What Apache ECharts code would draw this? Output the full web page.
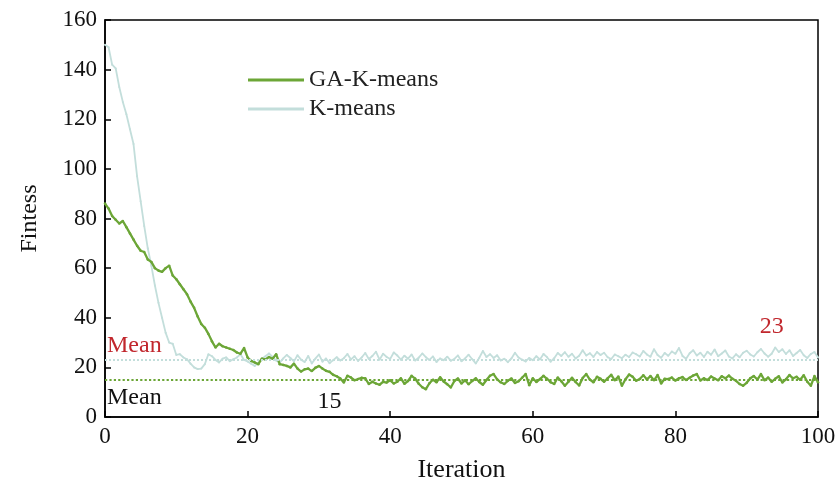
<!DOCTYPE html>
<html>
<head>
<meta charset="utf-8">
<script src="https://cdn.jsdelivr.net/npm/echarts@6/dist/echarts.min.js"></script>
<style>
  html, body { margin: 0; padding: 0; background: #fff; }
  #chart { width: 839px; height: 488px; }
</style>
</head>
<body>
<div id="chart"></div>
<script>
// Iterations sampled every half step from 0 to 100
const iterations = Array.from({ length: 201 }, (_, i) => i * 0.5);

const gaKMeans = [
  86, 84, 81, 79.5, 78, 79, 76.5, 74, 71.5, 69,
  67, 66.5, 63.5, 62.5, 60, 59, 58.5, 60, 61, 57,
  55.5, 53.5, 51.5, 49.5, 46.5, 44, 40.5, 37.5, 36, 33.5,
  30.5, 28, 29.5, 28.5, 28, 27.5, 27, 26, 25.5, 27.8,
  24, 22.6, 22, 21.3, 23.5, 23.2, 24.2, 23.5, 25.3, 21.3,
  21, 20.6, 20, 21.5, 19.5, 18.3, 19.2, 19.5, 18.5, 19.8,
  20.6, 19.5, 18.6, 18.2, 17, 16.4, 15.5, 13.9, 16.6, 15.9,
  14.8, 15.3, 15.8, 15.6, 13.3, 14.2, 13.5, 13, 14.2, 13.9,
  14.8, 13.5, 14.2, 15.6, 13.4, 14.5, 16.6, 15.5, 13.4, 12,
  11.2, 13.6, 15, 14, 16, 14.3, 13.2, 11.9, 14.5, 15.5,
  13.5, 14.8, 13.2, 14.5, 15.6, 14.1, 13, 14.9, 16.6, 17.3,
  15.2, 14, 13.3, 14.6, 15.5, 13.7, 14.4, 15.8, 17.3, 12.8,
  15.6, 14.1, 15.3, 16.6, 15.4, 14, 13.3, 15.9, 14.4, 12.6,
  14.2, 15.8, 14.1, 12.7, 15.7, 17.3, 15.1, 14, 16.2, 15.4,
  14.2, 15.6, 17, 14.8, 16.3, 12.6, 15.2, 17.1, 16.2, 14.6,
  15.3, 16.8, 15.2, 16.5, 14.8, 16.9, 13.5, 15.4, 15.3, 15.9,
  14.7, 15.6, 16.1, 14.9, 15.8, 16.7, 17.3, 14.7, 15.6, 14.9,
  16.3, 15.5, 14.8, 16.4, 15.6, 16.7, 15.4, 14.6, 13.3, 12.6,
  13.8, 15.6, 16.5, 15.1, 17.3, 14.8, 15.9, 14.2, 15.4, 16.4,
  13.9, 15.2, 16.9, 15.6, 16.2, 15, 16.8, 14.2, 12.6, 16.5,
  14
];

const kMeans = [
  150, 149, 142, 140.5, 133, 127, 122, 116, 110, 97,
  87, 77, 68, 61, 53, 46, 40, 34, 30, 29.5,
  25, 25.3, 24, 23.3, 21.5, 20, 19.3, 19.5, 21.3, 25.3,
  24.5, 23, 22, 23.5, 24, 22.5, 23.3, 24, 25.3, 23,
  22.4, 21.5, 20.6, 21.8, 23.5, 24.5, 25.6, 24.2, 22.8, 21.9,
  23.6, 25, 23.8, 22.4, 24.9, 23.1, 22.2, 24.6, 21.6, 23.5,
  25.2, 22.3, 23.6, 21.7, 22.9, 24.1, 22.8, 23.7, 25.4, 23.2,
  24.5, 22.6, 24, 25.8, 23.4, 24.6, 26.3, 23.1, 25.5, 24.2,
  23.4, 26, 24.8, 23.1, 24.7, 23.5, 25.2, 22.8, 23.9, 25.6,
  24.1, 23, 24.4, 22.2, 23.6, 22.9, 24.3, 22.7, 23.4, 24.8,
  22.5, 23.6, 25.1, 23.3, 21.6, 23.9, 26.6, 24.2, 25.3, 23.8,
  24.9, 22.8, 23.5, 22.1, 23.6, 25.9, 24, 23.1, 22.4, 23.8,
  22.9, 24.5, 23.2, 25.4, 24.1, 22.3, 23.7, 25.8, 24.6, 26.1,
  24.3, 25.5, 23.6, 24.7, 26.9, 24.8, 25.7, 24.2, 26.2, 25,
  25.9, 24.1, 23.4, 25.2, 24.5, 23.7, 25.1, 24.2, 26, 25.3,
  24.4, 26.6, 25.2, 24.3, 27.3, 25, 23.9, 25.8, 24.7, 26.4,
  25.5, 27.8, 24.6, 23.5, 25.7, 26.9, 24.8, 25.9, 24.2, 26.3,
  25.1, 27.2, 24.5, 25.6, 26.8, 24.4, 23.6, 25.3, 24.1, 25.9,
  26.7, 25.2, 24.4, 26.1, 27.4, 25.6, 24.3, 25.5, 28, 26.2,
  27.3, 25.4, 26.9, 24.6, 25.8, 27, 24.9, 23.8, 25.4, 26.2,
  24
];

// Reported mean fitness of each method
const kMeansMean = 23;
const gaKMeansMean = 15;

const xTicks = { min: 0, max: 100, interval: 20 };
const yTicks = { min: 0, max: 160, interval: 20 };

const serif = 'Liberation Serif, Times New Roman, serif';
const green = '#6ca637';
const teal = '#c3dedb';
const meanRed = '#c1272d';

const chart = echarts.init(document.getElementById('chart'), null, { renderer: 'canvas' });

const pairs = (ys) => iterations.map((x, i) => [x, ys[i]]);

chart.setOption({
  animation: false,
  backgroundColor: '#fff',
  grid: { left: 105, right: 21, top: 20, bottom: 70, show: true, borderColor: '#000', borderWidth: 1.5 },
  legend: {
    left: 243, top: 63, orient: 'vertical', itemGap: 5,
    itemWidth: 56, itemHeight: 3, icon: 'rect',
    textStyle: { fontFamily: serif, fontSize: 24, color: '#222', padding: [0, 0, 0, 0] },
    data: ['GA-K-means', 'K-means']
  },
  xAxis: {
    type: 'value', min: xTicks.min, max: xTicks.max, interval: xTicks.interval,
    name: 'Iteration', nameLocation: 'middle', nameGap: 40,
    nameTextStyle: { fontFamily: serif, fontSize: 26, color: '#111' },
    axisLine: { show: true, lineStyle: { color: '#000', width: 1.5 } },
    axisTick: { inside: true, length: 6, lineStyle: { color: '#000', width: 1.5 } },
    axisLabel: { fontFamily: serif, fontSize: 23, color: '#111', margin: 8 },
    splitLine: { show: false }
  },
  yAxis: {
    type: 'value', min: yTicks.min, max: yTicks.max, interval: yTicks.interval,
    name: 'Fintess', nameLocation: 'middle', nameGap: 63,
    nameTextStyle: { fontFamily: serif, fontSize: 24, color: '#111' },
    axisLine: { show: true, lineStyle: { color: '#000', width: 1.5 } },
    axisTick: { inside: true, length: 6, lineStyle: { color: '#000', width: 1.5 } },
    axisLabel: { fontFamily: serif, fontSize: 23, color: '#111', margin: 8 },
    splitLine: { show: false }
  },
  series: [
    {
      name: 'K-means', type: 'line', data: pairs(kMeans), z: 2,
      symbol: 'circle', symbolSize: 2, showSymbol: true,
      lineStyle: { color: teal, width: 1.8 }, itemStyle: { color: teal },
      markLine: {
        silent: true, symbol: 'none',
        lineStyle: { color: teal, type: 'dotted', width: 2 },
        label: {
          show: true, position: 'insideStartTop', formatter: 'Mean',
          fontFamily: serif, fontSize: 24, color: meanRed, distance: [2, 2]
        },
        data: [{ yAxis: kMeansMean }]
      },
      markPoint: {
        silent: true, symbol: 'rect', symbolSize: 1,
        itemStyle: { color: 'rgba(0,0,0,0)' },
        label: { show: true, position: 'inside', fontFamily: serif, fontSize: 24, color: meanRed, formatter: String(kMeansMean) },
        data: [{ coord: [93.5, kMeansMean + 13.5] }]
      }
    },
    {
      name: 'GA-K-means', type: 'line', data: pairs(gaKMeans), z: 3,
      symbol: 'circle', symbolSize: 2.5, showSymbol: true,
      lineStyle: { color: green, width: 2.3 }, itemStyle: { color: green },
      markLine: {
        silent: true, symbol: 'none',
        lineStyle: { color: green, type: 'dotted', width: 2.2 },
        label: {
          show: true, position: 'insideStartBottom', formatter: 'Mean',
          fontFamily: serif, fontSize: 24, color: '#111', distance: [2, 6]
        },
        data: [{ yAxis: gaKMeansMean }]
      },
      markPoint: {
        silent: true, symbol: 'rect', symbolSize: 1,
        itemStyle: { color: 'rgba(0,0,0,0)' },
        label: { show: true, position: 'inside', fontFamily: serif, fontSize: 24, color: '#111', formatter: String(gaKMeansMean) },
        data: [{ coord: [31.5, gaKMeansMean - 9] }]
      }
    }
  ]
});
</script>
</body>
</html>
